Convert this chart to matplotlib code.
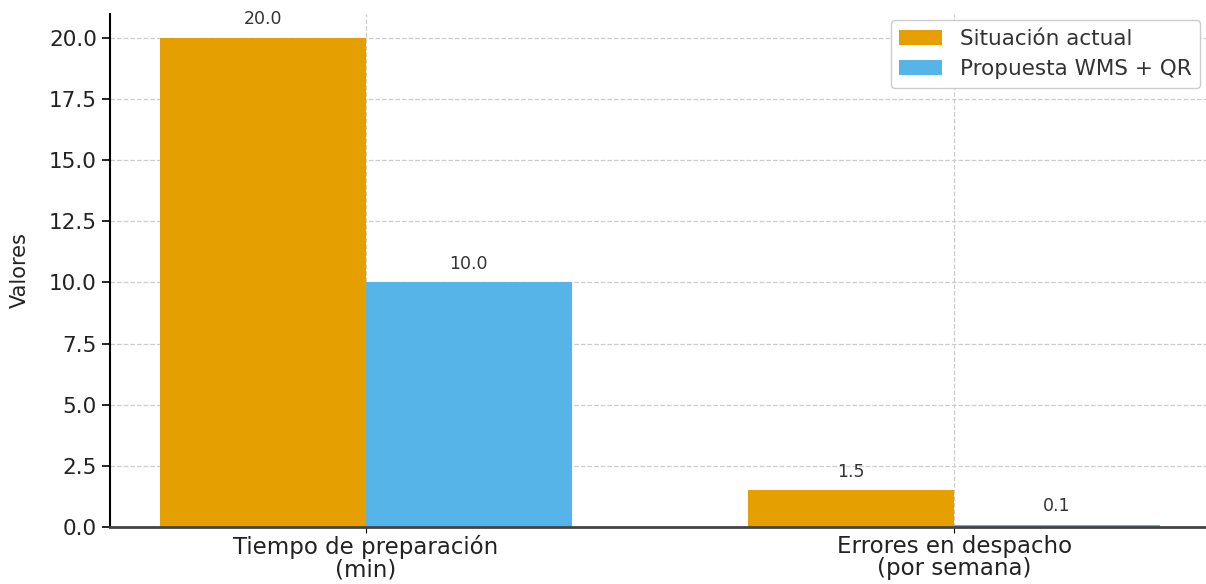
import matplotlib.pyplot as plt
import numpy as np

categorias = ["Tiempo de preparación\n(min)", "Errores en despacho\n(por semana)"]
situacion_actual = [20.0, 1.5]
propuesta_wms_qr = [10.0, 0.1]
series = ["Situación actual", "Propuesta WMS + QR"]
colores = ["#E69F00", "#56B4E9"]

x = np.arange(len(categorias))
ancho = 0.35

fig = plt.figure(figsize=(12.06, 5.84), dpi=100)
ax = fig.add_axes([110 / 1206, 57 / 584, 1100 / 1206, 513.5 / 584])

b1 = ax.bar(x - ancho / 2, situacion_actual, ancho, label=series[0], color=colores[0])
b2 = ax.bar(x + ancho / 2, propuesta_wms_qr, ancho, label=series[1], color=colores[1])

for barras in (b1, b2):
    for b in barras:
        h = b.get_height()
        ax.annotate(f"{h:.1f}", (b.get_x() + b.get_width() / 2, h),
                    xytext=(0, 7), textcoords="offset points",
                    ha="center", va="bottom", fontsize=12.5, color="#333333")

ax.set_xlim(-0.435, 1.435)
ax.set_ylim(0, 21)
ax.set_yticks(np.arange(0, 20.1, 2.5))
ax.set_xticks(x)
ax.set_xticklabels(categorias, fontsize=16.5, linespacing=0.95, color="#222222")
ax.tick_params(axis="y", labelsize=15.5, length=6, width=1.2, labelcolor="#222222")
ax.tick_params(axis="x", length=4, pad=2)
ax.set_ylabel("Valores", fontsize=15, labelpad=14, color="#222222")

ax.set_axisbelow(True)
ax.grid(True, linestyle="--", color="#cccccc", linewidth=0.9)

ax.spines["top"].set_visible(False)
ax.spines["right"].set_visible(False)
ax.spines["left"].set_linewidth(1.5)
ax.spines["bottom"].set_linewidth(2)
ax.spines["bottom"].set_color("#444444")

leg = ax.legend(loc="upper right", bbox_to_anchor=(1200 / 1206, 1 - 20 / 584),
                bbox_transform=fig.transFigure, borderaxespad=0, fontsize=15.5,
                handlelength=2.0, framealpha=1)
for t in leg.get_texts():
    t.set_color("#333333")

fig.savefig("out.png", dpi=100)
